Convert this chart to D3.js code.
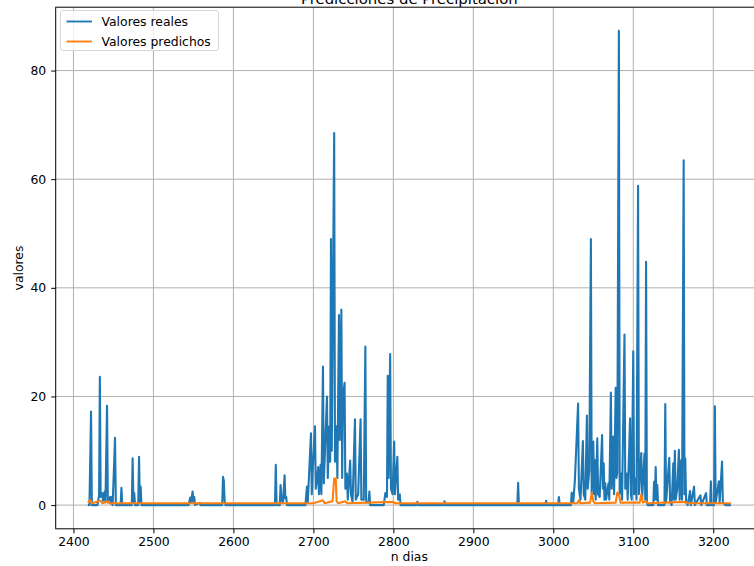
<!DOCTYPE html>
<html>
<head>
<meta charset="utf-8">
<script src="https://cdn.jsdelivr.net/npm/d3@7"></script>
<style>
  body { margin: 0; background: #fff; }
  svg { display: block; overflow: hidden; }
  text { font-family: "DejaVu Sans", sans-serif; fill: #000; }
</style>
</head>
<body>
<svg id="chart" width="754" height="566"></svg>
<script>
// daily rain values (zeros mark where the line returns to the floor)
var realDays = [
  2418,2420,2422,2423,2430,2432,2433,2434,2435,2436,2437,2439,2440,2442,2443,2446,2447,2448,2449,2452,2453,2459,2460,2461,2473,2474,2475,2476,2477,2481,2482,2483,2484,2485,
  2544,2546,2547,2549,2550,2551,2552,2558,2559,2586,2587,2588,2589,2590,2652,2653,2654,2658,2659,2660,2662,2664,2665,2666,2667,
  2690,2692,2693,2697,2698,2699,2702,2703,2705,2706,2707,2709,2710,2712,2713,2715,2717,2718,2720,2721,2722,2723,2726,2727,2729,2730,2732,2733,2735,2736,2737,2739,2740,2742,2743,2746,2747,2749,2752,2753,2756,2759,2760,2763,2765,2766,2769,2770,2771,2788,2790,2792,2793,2794,2796,2797,2799,2801,2802,2805,2806,2808,2809,
  2829,2830,2831,2863,2864,2865,2955,2956,2957,2990,2991,2992,3006,3007,3008,
  3022,3023,3025,3027,3031,3032,3034,3037,3038,3040,3042,3043,3045,3047,3048,3050,3051,3052,3053,3055,3056,3058,3061,3062,3063,3064,3065,3066,3069,3070,3072,3073,3075,3076,3078,3079,3080,3082,3083,3085,3086,3089,3090,3092,3093,3096,3097,3098,3100,3101,3103,3104,3106,3107,3110,3111,3114,3115,3116,3117,3118,
  3125,3126,3127,3128,3129,3130,3131,3139,3140,3141,3145,3146,3148,3150,3151,3152,3153,3155,3157,3158,3160,3161,3163,3164,3165,3166,3168,3171,3172,3176,3177,3184,3185,3191,3192,3196,3197,3198,3201,3202,3203,3207,3208,3211,3212,3215,3222
];
var realValues = [
  0,0,17.2,0,0,1.8,23.6,1.5,2.0,2.2,0.8,2.5,0.5,18.3,0.5,1.5,0.3,1.5,0,12.4,0,0,3.2,0,0,8.6,0.5,2.2,0,0,8.9,0.5,3.4,0,
  0,1.4,0.5,2.5,0.5,1.5,0,0.4,0,0,5.2,4.5,0.8,0,0,7.4,0,0,3.7,1.0,0.5,5.5,1.2,1.5,0,
  0,3.4,0.5,13.2,2,6,14.5,3,5,7,2,7.4,2,25.5,4,12,20,5,14.5,8,49,10,68.5,8,14.5,5,35,12,36,5,20,22.5,3,5.8,1,8.2,2,0.5,15.8,1,2,15.8,1,1,29.2,0.5,0.5,2.5,0,0,2.2,1.5,23.8,5,27.8,3,2,11.7,2,8.9,1,2,0,
  0,0.6,0,0,0.7,0,0,4.1,0,0,0.8,0,0,1.5,0,
  0,2.3,0.5,4.6,18.7,3,1,11.8,2,1,16.5,3,6.4,49,2,11.7,2,8.3,1,12.3,2,1.5,12.9,3,7.7,1,4,1,4,1,20.7,3,12.6,2,21.6,5,6,87.3,2,5.8,1,31.4,3,5.8,1,16,2,1,28.3,2,4.9,1,58.8,2,9.6,1,9.5,1,44.8,0.5,0,
  0,4.3,1,7,1,3.7,0,0,18.6,0.5,8.7,0.5,0,7.7,1,10,1,3,10.2,1,8.3,1,63.5,2,8.6,0.5,0,2.6,0,3.4,0,1.8,0,2.2,0,0,4.4,0,0,18.2,0.5,4.4,0.5,8.0,0.5,0,0
];

var predDays = [2418,2421,2423,2434,2436,2443,2445,2700,2712,2714,2724,2726,2728,2729,2731,2740,2742,2800,2802,
  3030,3032,3034,3046,3048,3050,3052,3078,3080,3082,3084,3108,3110,3112,3116,3118,3165,3167,3222];
var predValues = [0.45,0.9,0.35,0.8,0.35,0.7,0.35,0.35,0.9,0.35,0.7,4.9,4.9,0.7,0.35,0.7,0.35,0.6,0.35,
  0.35,0.9,0.35,0.45,2.2,0.7,0.35,0.45,2.3,2.0,0.45,0.45,2.0,0.45,0.7,0.35,0.6,0.35,0.35];

var xTicks = [2400,2500,2600,2700,2800,2900,3000,3100,3200];
var yTicks = [0,20,40,60,80];
var seriesNames = ["Valores reales","Valores predichos"];
var seriesColors = ["#1f77b4","#ff7f0e"];

var axLeft = 55.7, axRight = 763, axTop = 7.2, axBottom = 528.8;
var fs = 12.4;

var svg = d3.select("#chart");

var real = realDays.map(function(d,i){ return [d, realValues[i]]; });
var pred = predDays.map(function(d,i){ return [d, predValues[i]]; });

// matplotlib style 5% margins
var xExt = d3.extent(realDays.concat(predDays));
var yExt = d3.extent(realValues.concat(predValues));
var xPad = (xExt[1]-xExt[0])*0.05, yPad = (yExt[1]-yExt[0])*0.05;

var x = d3.scaleLinear().domain([xExt[0]-xPad, xExt[1]+xPad]).range([axLeft,axRight]);
var y = d3.scaleLinear().domain([yExt[0]-yPad, yExt[1]+yPad]).range([axBottom,axTop]);

svg.append("defs").append("clipPath").attr("id","clip")
  .append("rect").attr("x",axLeft).attr("y",axTop).attr("width",axRight-axLeft).attr("height",axBottom-axTop);

// grid
var grid = svg.append("g").attr("stroke","#b0b0b0").attr("stroke-width",1);
grid.selectAll(".gx").data(xTicks).enter().append("line")
  .attr("x1",function(d){return x(d);}).attr("x2",function(d){return x(d);})
  .attr("y1",axTop).attr("y2",axBottom);
grid.selectAll(".gy").data(yTicks).enter().append("line")
  .attr("y1",function(d){return y(d);}).attr("y2",function(d){return y(d);})
  .attr("x1",axLeft).attr("x2",axRight);

var line = d3.line().x(function(d){return x(d[0]);}).y(function(d){return y(d[1]);});
var plot = svg.append("g").attr("clip-path","url(#clip)");
[real,pred].forEach(function(s,i){
  plot.append("path").datum(s)
    .attr("d",line).attr("fill","none")
    .attr("stroke",seriesColors[i]).attr("stroke-width",2.1)
    .attr("stroke-linejoin","round");
});

// axes
var xAxis = svg.append("g").attr("transform","translate(0,"+axBottom+")")
  .call(d3.axisBottom(x).tickValues(xTicks).tickSize(4.5).tickPadding(4).tickFormat(d3.format("d")));
var yAxis = svg.append("g").attr("transform","translate("+axLeft+",0)")
  .call(d3.axisLeft(y).tickValues(yTicks).tickSize(4.5).tickPadding(5).tickFormat(d3.format("d")));
[xAxis,yAxis].forEach(function(a){
  a.select(".domain").remove();
  a.selectAll("text").attr("font-size",fs).attr("font-family","DejaVu Sans").attr("fill","#000");
  a.selectAll("line").attr("stroke","#000").attr("stroke-width",1);
});

// frame
svg.append("rect").attr("x",axLeft).attr("y",axTop).attr("width",axRight-axLeft).attr("height",axBottom-axTop)
  .attr("fill","none").attr("stroke","#000").attr("stroke-width",1);

// labels
svg.append("text").attr("x",(axLeft+axRight)/2).attr("y",3.5).attr("text-anchor","middle")
  .attr("font-size",14.9).text("Predicciones de Precipitación");
svg.append("text").attr("x",(axLeft+axRight)/2).attr("y",561).attr("text-anchor","middle")
  .attr("font-size",fs).text("n dias");
svg.append("text").attr("transform","translate(23,"+((axTop+axBottom)/2)+") rotate(-90)")
  .attr("text-anchor","middle").attr("font-size",fs).text("valores");

// legend
var lg = svg.append("g");
lg.append("rect").attr("x",60.5).attr("y",10.5).attr("width",158).attr("height",40)
  .attr("rx",2.5).attr("fill","#fff").attr("fill-opacity",0.8)
  .attr("stroke","#d6d6d6").attr("stroke-width",1);
seriesNames.forEach(function(n,i){
  var cy = 21.5 + i*20;
  lg.append("line").attr("x1",66.5).attr("x2",92).attr("y1",cy).attr("y2",cy)
    .attr("stroke",seriesColors[i]).attr("stroke-width",1.9);
  lg.append("text").attr("x",101.5).attr("y",cy+4.3).attr("font-size",fs).text(n);
});
</script>
</body>
</html>
